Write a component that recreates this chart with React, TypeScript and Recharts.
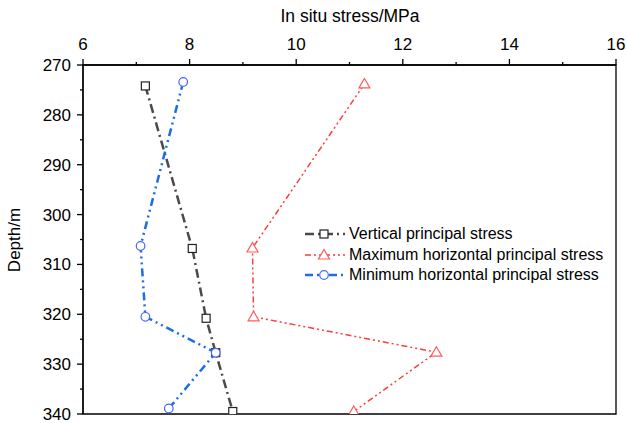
import { useEffect } from 'react';
import { ScatterChart, Scatter, XAxis, YAxis, ReferenceArea } from 'recharts';

const FONT = "Arial, 'Liberation Sans', sans-serif";

const STRESS_TICKS = [6, 7, 8, 9, 10, 11, 12, 13, 14, 15, 16];
const DEPTH_TICKS = [270, 275, 280, 285, 290, 295, 300, 305, 310, 315, 320, 325, 330, 335, 340];

const verticalStress = [
  { stress: 7.17, depth: 274.2 },
  { stress: 8.05, depth: 306.8 },
  { stress: 8.31, depth: 320.8 },
  { stress: 8.49, depth: 327.7 },
  { stress: 8.81, depth: 339.5 },
];

const maxHorizontal = [
  { stress: 11.28, depth: 273.8 },
  { stress: 9.18, depth: 306.7 },
  { stress: 9.2, depth: 320.5 },
  { stress: 12.63, depth: 327.6 },
  { stress: 11.08, depth: 339.5 },
];

const minHorizontal = [
  { stress: 7.88, depth: 273.4 },
  { stress: 7.08, depth: 306.3 },
  { stress: 7.17, depth: 320.5 },
  { stress: 8.49, depth: 327.7 },
  { stress: 7.61, depth: 338.9 },
];

const SERIES = [
  { name: 'Vertical principal stress', data: verticalStress, color: '#4a4a4a', marker: '#222222', width: 2.5, dash: '9 4 2 4', shape: 'square' },
  { name: 'Maximum horizontal principal stress', data: maxHorizontal, color: '#ff3b3b', marker: '#ff5c5c', width: 1.5, dash: '6 3 2 3 2 3', shape: 'triangle' },
  { name: 'Minimum horizontal principal stress', data: minHorizontal, color: '#1c6ee6', marker: '#4a67f5', width: 2.5, dash: '8 4 2 4 2 4', shape: 'circle' },
];

function drawMarker(shape: string, cx: number, cy: number, color: string) {
  if (shape === 'square') {
    return <rect x={cx - 4} y={cy - 4} width={8} height={8} fill="#fff" stroke={color} strokeWidth={1.2} />;
  }
  if (shape === 'triangle') {
    return (
      <path
        d={`M${cx},${cy - 5.5} L${cx + 5.5},${cy + 4} L${cx - 5.5},${cy + 4} Z`}
        fill="#fff"
        stroke={color}
        strokeWidth={1.2}
      />
    );
  }
  return <circle cx={cx} cy={cy} r={4.3} fill="#fff" stroke={color} strokeWidth={1.2} />;
}

// tickSize/tickMargin are 0, so x/y here sit right on the axis line
function StressTick({ x, y, payload }: any) {
  const major = payload.value % 2 === 0;
  return (
    <g>
      <line x1={x} x2={x} y1={y} y2={y - (major ? 6 : 3)} stroke="#000" strokeWidth={1.3} />
      {major && (
        <text x={x} y={y - 15} textAnchor="middle" fontSize={17} fontFamily={FONT} fill="#000">
          {payload.value}
        </text>
      )}
    </g>
  );
}

function DepthTick({ x, y, payload }: any) {
  const major = payload.value % 10 === 0;
  return (
    <g>
      <line x1={x} x2={x - (major ? 6 : 3)} y1={y} y2={y} stroke="#000" strokeWidth={1.3} />
      {major && (
        <text x={x - 12} y={y + 6} textAnchor="end" fontSize={17} fontFamily={FONT} fill="#000">
          {payload.value}
        </text>
      )}
    </g>
  );
}

function StressLegend() {
  return (
    <div style={{ position: 'absolute', left: 304, top: 224, fontFamily: FONT, fontSize: 16, color: '#000' }}>
      {SERIES.map(s => (
        <div key={s.name} style={{ display: 'flex', alignItems: 'center', height: 20.5, whiteSpace: 'nowrap' }}>
          <svg width={42} height={14} style={{ marginRight: 3 }}>
            <line x1={1} x2={41} y1={7} y2={7} stroke={s.color} strokeWidth={s.width} strokeDasharray={s.dash} />
            {drawMarker(s.shape, 20, 7, s.marker)}
          </svg>
          <span>{s.name}</span>
        </div>
      ))}
    </div>
  );
}

export default function App() {
  useEffect(() => {
    document.body.style.margin = '0';
  }, []);

  return (
    <div style={{ width: 627, height: 423, position: 'relative', background: '#fff' }}>
      <ScatterChart width={627} height={423} margin={{ top: 15, right: 11, bottom: 9, left: 23 }}>
        <XAxis
          type="number"
          dataKey="stress"
          orientation="top"
          domain={[6, 16]}
          ticks={STRESS_TICKS}
          interval={0}
          height={50}
          tickSize={0}
          tickMargin={0}
          axisLine={{ stroke: '#000', strokeWidth: 1.3 }}
          tickLine={false}
          tick={<StressTick />}
          allowDataOverflow
        />
        <YAxis
          type="number"
          dataKey="depth"
          reversed
          domain={[270, 340]}
          ticks={DEPTH_TICKS}
          interval={0}
          width={60}
          tickSize={0}
          tickMargin={0}
          axisLine={{ stroke: '#000', strokeWidth: 1.3 }}
          tickLine={false}
          tick={<DepthTick />}
          allowDataOverflow
        />
        <ReferenceArea x1={6} x2={16} y1={270} y2={340} fill="none" stroke="#000" strokeWidth={1.3} ifOverflow="visible" />
        {SERIES.map(s => (
          <Scatter
            key={s.name}
            name={s.name}
            data={s.data}
            line={{ stroke: s.color, strokeWidth: s.width, strokeDasharray: s.dash }}
            lineType="joint"
            shape={(p: any) => drawMarker(s.shape, p.cx, p.cy, s.marker)}
            isAnimationActive={false}
          />
        ))}
        <text x={350} y={22} textAnchor="middle" fontSize={17.5} fontFamily={FONT} fill="#000">
          In situ stress/MPa
        </text>
        <text
          x={20}
          y={240}
          textAnchor="middle"
          fontSize={17}
          fontFamily={FONT}
          fill="#000"
          transform="rotate(-90 20 240)"
        >
          Depth/m
        </text>
      </ScatterChart>
      <StressLegend />
    </div>
  );
}
